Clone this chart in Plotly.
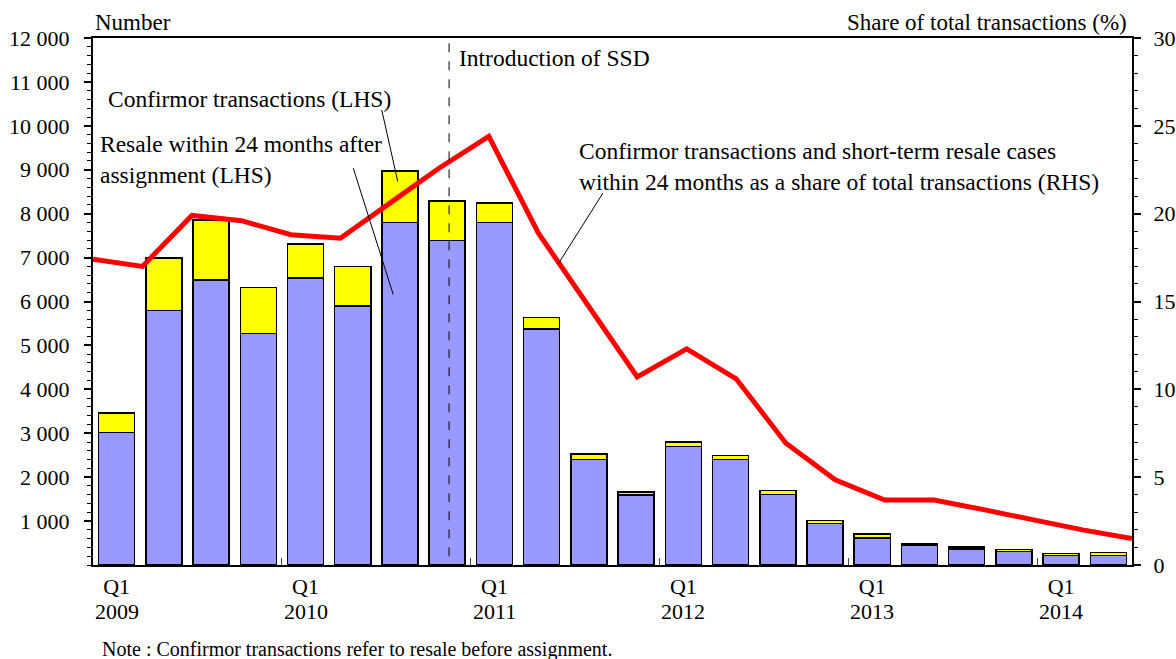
import plotly.graph_objects as go

# ---------------- data ----------------
quarters = ["2009Q1", "2009Q2", "2009Q3", "2009Q4",
            "2010Q1", "2010Q2", "2010Q3", "2010Q4",
            "2011Q1", "2011Q2", "2011Q3", "2011Q4",
            "2012Q1", "2012Q2", "2012Q3", "2012Q4",
            "2013Q1", "2013Q2", "2013Q3", "2013Q4",
            "2014Q1", "2014Q2"]

resale_24m = [3020, 5790, 6490, 5270, 6530, 5900, 7800, 7390, 7800, 5370, 2400,
              1590, 2700, 2400, 1600, 950, 620, 450, 365, 310, 215, 215]
confirmor = [440, 1200, 1370, 1050, 775, 895, 1170, 900, 440, 270, 130,
             70, 100, 90, 100, 65, 85, 35, 45, 45, 45, 65]
share_pct = [17.4, 17.0, 19.9, 19.6, 18.8, 18.6, 20.6, 22.6, 24.4, 18.9, 14.8,
             10.7, 12.3, 10.6, 6.95, 4.85, 3.7, 3.7, 3.15, 2.55, 2.0, 1.5]

left_ticks = list(range(1000, 12001, 1000))
left_ticktext = [f"{v:,}".replace(",", " ") for v in left_ticks]
right_ticks = list(range(0, 31, 5))
ssd_position = 7.04  # Introduction of SSD (Nov 2010)

FONT = "Liberation Serif"
BLUE = "#9999FF"
YELLOW = "#FFFF00"
RED = "#FF0000"

idx = list(range(len(quarters)))
q1_idx = [i for i, q in enumerate(quarters) if q.endswith("Q1")]
q1_years = [quarters[i][:4] for i in q1_idx]
year_bounds = [i - 0.5 for i in q1_idx if i > 0]

fig = go.Figure()
fig.add_trace(go.Bar(x=idx, y=resale_24m, marker=dict(color=BLUE, line=dict(color="black", width=1.5)),
                     name="Resale within 24 months after assignment (LHS)"))
fig.add_trace(go.Bar(x=idx, y=confirmor, marker=dict(color=YELLOW, line=dict(color="black", width=1.5)),
                     name="Confirmor transactions (LHS)"))
fig.add_trace(go.Scatter(x=idx, y=share_pct, mode="lines", xaxis="x2", yaxis="y2",
                         line=dict(color=RED, width=5), name="Share (RHS)"))

axis_font = dict(family=FONT, size=22, color="black")

fig.update_layout(
    width=1176, height=659,
    margin=dict(l=93, r=44, t=38, b=94, autoexpand=False),
    paper_bgcolor="white", plot_bgcolor="white",
    barmode="stack", bargap=0.237,
    showlegend=False,
    font=axis_font,
    xaxis=dict(range=[-0.5, len(quarters) - 0.5], tickmode="array", tickvals=q1_idx,
               ticktext=["Q1"] * len(q1_idx), ticklabelstandoff=1,
               ticks="", showline=True, linecolor="black", linewidth=2, mirror=True, automargin=False,
               showgrid=False, zeroline=False, tickfont=axis_font,
               minor=dict(tickmode="array", tickvals=year_bounds, ticks="inside", ticklen=7,
                          tickwidth=1, tickcolor="#444")),
    xaxis2=dict(overlaying="x", range=[0, len(quarters) - 1], visible=False, showgrid=False),
    yaxis=dict(range=[0, 12000], tickmode="array", tickvals=left_ticks, ticktext=left_ticktext,
               ticks="outside", ticklen=7, tickwidth=1.5, tickcolor="black", automargin=False,
               showline=True, linecolor="black", linewidth=2, showgrid=False, zeroline=False,
               tickfont=axis_font, ticklabelstandoff=10,
               minor=dict(dtick=200, ticks="outside", ticklen=4, tickwidth=1, tickcolor="black")),
    yaxis2=dict(overlaying="y", side="right", range=[0, 30], tickmode="array", tickvals=right_ticks,
                ticks="outside", ticklen=7, tickwidth=1.5, tickcolor="black", automargin=False,
                showline=True, linecolor="black", linewidth=2, showgrid=False, zeroline=False,
                tickfont=axis_font, ticklabelstandoff=8,
                minor=dict(dtick=1, ticks="outside", ticklen=4, tickwidth=1, tickcolor="black")),
)

# year labels under the Q1 ticks
for i, yr in zip(q1_idx, q1_years):
    fig.add_annotation(text=yr, xref="x", yref="paper", x=i, y=-0.088, yanchor="middle", xanchor="center",
                       showarrow=False, font=axis_font)

# dashed line: Introduction of SSD
fig.add_shape(type="line", xref="x", yref="paper", x0=ssd_position, x1=ssd_position, y0=0.0165, y1=0.9924,
              line=dict(color="black", width=1, dash="dash"))

# pointer lines for labels
pointers = [((0.2779, 0.8636), (0.2933, 0.7277)),
            ((0.2505, 0.7531), (0.2890, 0.5130)),
            ((0.4908, 0.7057), (0.4479, 0.5717))]
for (x0, y0), (x1, y1) in pointers:
    fig.add_shape(type="line", xref="paper", yref="paper", x0=x0, y0=y0, x1=x1, y1=y1,
                  line=dict(color="black", width=1))

def label(text, x, y, xanchor="left", size=23.5):
    fig.add_annotation(text=text, xref="paper", yref="paper", x=x, y=y, xanchor=xanchor, yanchor="middle",
                       showarrow=False, align="left", font=dict(family=FONT, size=size, color="black"))

label("Number", 0.0, 1.030, size=23)
label("Share of total transactions (%)", 0.997, 1.030, xanchor="right", size=23)
label("Introduction of SSD", 0.3506, 0.9615)
label("Confirmor transactions (LHS)", 0.0125, 0.884)
label("Resale within 24 months after<br>assignment (LHS)", 0.005, 0.769)
label("Confirmor transactions and short-term resale cases<br>within 24 months as a share of total transactions (RHS)",
      0.466, 0.757)
label("Note : Confirmor transactions refer to resale before assignment.", 0.0067, -0.160, size=20)

fig.write_html("out.html", config={"displayModeBar": False},
               post_script="document.body.style.margin='0';")
